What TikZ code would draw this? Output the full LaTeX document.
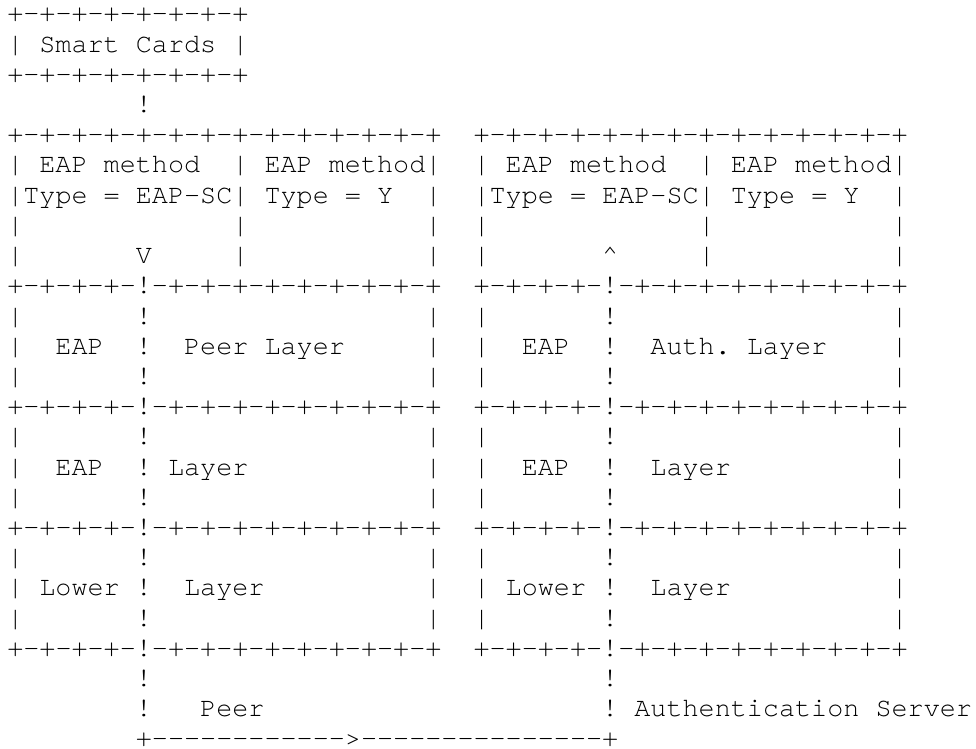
\documentclass[tikz,border=0pt]{standalone}
\usepackage{fontspec}
\setmonofont{TeX Gyre Cursor}
\usepackage{tikz}
\frenchspacing

\tikzset{
  row/.style={anchor=base west, inner sep=0pt, text depth=0pt, font=\ttfamily\fontsize{20.1}{24}\selectfont}
}

\begin{document}
\begin{tikzpicture}[x=0.75pt,y=-0.75pt]
    \useasboundingbox (0,0) rectangle (976,749);

        % smart card box
        \node [row] (row01) at (7,22.0)  {+-+-+-+-+-+-+-+};
        \node [row] (row02) at (7,52.2)  {|~Smart~Cards~|};
        \node [row] (row03) at (7,82.4)  {+-+-+-+-+-+-+-+};
        \node [row] (row04) at (7,112.6) {~~~~~~~~!};

        % method layer
        \node [row] (row05) at (7,142.8) {+-+-+-+-+-+-+-+-+-+-+-+-+-+~~+-+-+-+-+-+-+-+-+-+-+-+-+-+};
        \node [row] (row06) at (7,173.0) {|~EAP~method~~|~EAP~method|~~|~EAP~method~~|~EAP~method|};
        \node [row] (row07) at (7,203.2) {|Type~=~EAP-SC|~Type~=~Y~~|~~|Type~=~EAP-SC|~Type~=~Y~~|};
        \node [row] (row08) at (7,233.4) {|~~~~~~~~~~~~~|~~~~~~~~~~~|~~|~~~~~~~~~~~~~|~~~~~~~~~~~|};
        \node [row] (row09) at (7,263.6) {|~~~~~~~V~~~~~|~~~~~~~~~~~|~~|~~~~~~~\textasciicircum~~~~~|~~~~~~~~~~~|};

        % peer / auth layer
        \node [row] (row10) at (7,293.8) {+-+-+-+-!-+-+-+-+-+-+-+-+-+~~+-+-+-+-!-+-+-+-+-+-+-+-+-+};
        \node [row] (row11) at (7,324.0) {|~~~~~~~!~~~~~~~~~~~~~~~~~|~~|~~~~~~~!~~~~~~~~~~~~~~~~~|};
        \node [row] (row12) at (7,354.2) {|~~EAP~~!~~Peer~Layer~~~~~|~~|~~EAP~~!~~Auth.~Layer~~~~|};
        \node [row] (row13) at (7,384.4) {|~~~~~~~!~~~~~~~~~~~~~~~~~|~~|~~~~~~~!~~~~~~~~~~~~~~~~~|};

        % eap layer
        \node [row] (row14) at (7,414.6) {+-+-+-+-!-+-+-+-+-+-+-+-+-+~~+-+-+-+-!-+-+-+-+-+-+-+-+-+};
        \node [row] (row15) at (7,444.8) {|~~~~~~~!~~~~~~~~~~~~~~~~~|~~|~~~~~~~!~~~~~~~~~~~~~~~~~|};
        \node [row] (row16) at (7,475.0) {|~~EAP~~!~Layer~~~~~~~~~~~|~~|~~EAP~~!~~Layer~~~~~~~~~~|};
        \node [row] (row17) at (7,505.2) {|~~~~~~~!~~~~~~~~~~~~~~~~~|~~|~~~~~~~!~~~~~~~~~~~~~~~~~|};

        % lower layer
        \node [row] (row18) at (7,535.4) {+-+-+-+-!-+-+-+-+-+-+-+-+-+~~+-+-+-+-!-+-+-+-+-+-+-+-+-+};
        \node [row] (row19) at (7,565.6) {|~~~~~~~!~~~~~~~~~~~~~~~~~|~~|~~~~~~~!~~~~~~~~~~~~~~~~~|};
        \node [row] (row20) at (7,595.8) {|~Lower~!~~Layer~~~~~~~~~~|~~|~Lower~!~~Layer~~~~~~~~~~|};
        \node [row] (row21) at (7,626.0) {|~~~~~~~!~~~~~~~~~~~~~~~~~|~~|~~~~~~~!~~~~~~~~~~~~~~~~~|};
        \node [row] (row22) at (7,656.2) {+-+-+-+-!-+-+-+-+-+-+-+-+-+~~+-+-+-+-!-+-+-+-+-+-+-+-+-+};

        % peer to server
        \node [row] (row23) at (7,686.4) {~~~~~~~~!~~~~~~~~~~~~~~~~~~~~~~~~~~~~!};
        \node [row] (row24) at (7,716.6) {~~~~~~~~!~~~Peer~~~~~~~~~~~~~~~~~~~~~!~Authentication~Server};
        \node [row] (row25) at (7,746.8) {~~~~~~~~+------------>---------------+};

\end{tikzpicture}
\end{document}
